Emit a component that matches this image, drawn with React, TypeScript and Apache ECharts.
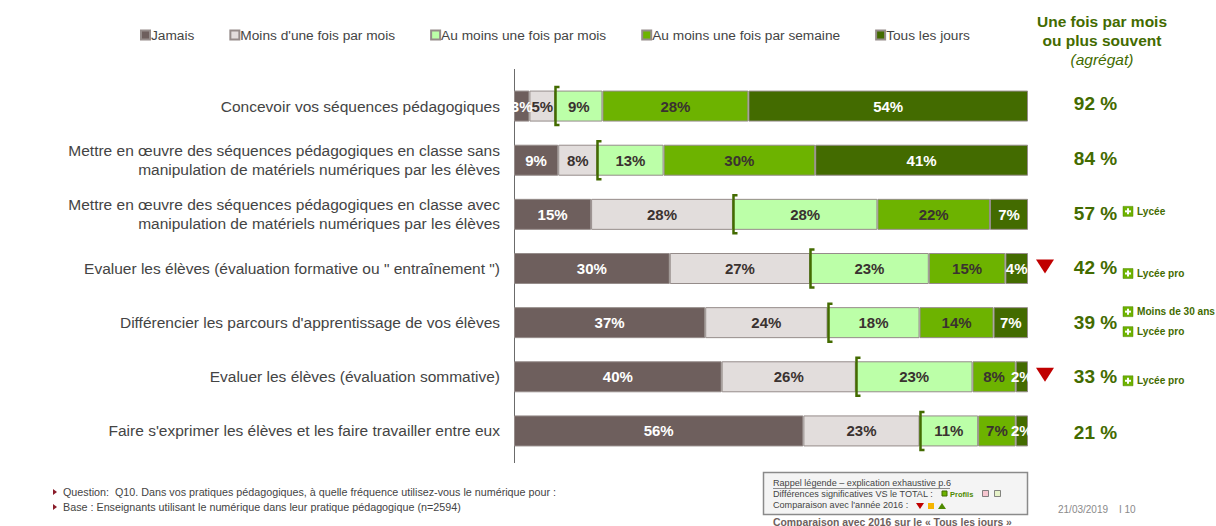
import React, { useEffect, useRef } from "react";
import * as echarts from "echarts";

const FONT = "'Liberation Sans', Arial, sans-serif";
const categories = [
  "Concevoir vos séquences pédagogiques",
  "Mettre en œuvre des séquences pédagogiques en classe sans\nmanipulation de matériels numériques par les élèves",
  "Mettre en œuvre des séquences pédagogiques en classe avec\nmanipulation de matériels numériques par les élèves",
  "Evaluer les élèves (évaluation formative ou \" entraînement \")",
  "Différencier les parcours d'apprentissage de vos élèves",
  "Evaluer les élèves (évaluation sommative)",
  "Faire s'exprimer les élèves et les faire travailler entre eux",
];
const seriesNames = [
  "Jamais",
  "Moins d'une fois par mois",
  "Au moins une fois par mois",
  "Au moins une fois par semaine",
  "Tous les jours",
];
const jamais = [3.0, 8.6, 15.0, 30.3, 37.2, 40.4, 56.3];
const moinsUneFois = [5.0, 7.6, 27.6, 27.3, 23.8, 26.1, 22.6];
const auMoinsMois = [9.2, 12.9, 28.1, 23.1, 17.9, 22.7, 11.4];
const auMoinsSemaine = [28.4, 29.5, 21.9, 14.9, 14.4, 8.4, 7.3];
const tousLesJours = [54.4, 41.4, 7.4, 4.4, 6.7, 2.4, 2.4];
const aggregate = [92, 84, 57, 42, 39, 33, 21];
const trendDown = [false, false, false, true, false, true, false];
const rowTags = [[], [], ["Lycée"], ["Lycée pro"], ["Moins de 30 ans", "Lycée pro"], ["Lycée pro"], []];

const seriesValues = [jamais, moinsUneFois, auMoinsMois, auMoinsSemaine, tousLesJours];
const seriesColors = ["#6e5f5d", "#e2dddc", "#bcffa8", "#6db300", "#436b00"];
const labelColors = ["#ffffff", "#3a3230", "#3a3230", "#3a3230", "#ffffff"];
const GREEN = "#436b00";
const TEXT = "#444444";

const aggOffset = [-3, -2, -1, -1, 0, 0, 2];
const tagOffsets: Record<number, number[]> = { 2: [-3], 3: [5], 4: [-11, 9], 5: [4] };

function plusIcon(x: number, y: number) {
  return [
    { type: "rect", shape: { x, y, width: 10, height: 10 }, style: { fill: "#6db300", stroke: "#55880a", lineWidth: 0.5 } },
    { type: "rect", shape: { x: x + 2, y: y + 4, width: 6, height: 2 }, style: { fill: "#ffffff" } },
    { type: "rect", shape: { x: x + 4, y: y + 2, width: 2, height: 6 }, style: { fill: "#ffffff" } },
  ];
}

const graphicText = (text: string, x: number, y: number, font: string, fill: string, align = "left") => ({
  type: "text",
  x,
  y,
  silent: true,
  style: { text, font, fill, align, verticalAlign: "middle" },
});

function buildOption() {
  const bars = seriesNames.map((name, s) => ({
    name,
    type: "bar",
    stack: "total",
    barWidth: 31,
    data: seriesValues[s],
    itemStyle: { color: seriesColors[s], borderColor: "#958c8a", borderWidth: 1 },
    label: {
      show: true,
      position: "inside",
      color: labelColors[s],
      fontFamily: FONT,
      fontSize: 15,
      fontWeight: "bold",
      formatter: (p: any) => `${Math.round(p.value)}%`,
    },
  }));

  const bracket = {
    type: "custom",
    silent: true,
    z: 5,
    data: categories.map((_, i) => [jamais[i] + moinsUneFois[i], i]),
    renderItem: (_: any, api: any) => {
      const [x, y] = api.coord([api.value(0), api.value(1)]);
      const top = y - 19;
      const bottom = y + 19;
      const px = Math.round(x) + 0.5;
      return {
        type: "polyline",
        shape: { points: [[px + 4, top], [px, top], [px, bottom], [px + 4, bottom]] },
        style: { stroke: GREEN, fill: "none", lineWidth: 2.5 },
      };
    },
  };

  const side = {
    type: "custom",
    silent: true,
    z: 6,
    data: categories.map((_, i) => [100, i]),
    renderItem: (params: any, api: any) => {
      const i = params.dataIndex;
      const [x, y] = api.coord([api.value(0), api.value(1)]);
      const children: any[] = [
        {
          type: "text",
          x: x + 67.5,
          y: y + aggOffset[i],
          style: {
            text: `${aggregate[i]} %`,
            font: `bold 19px ${FONT}`,
            fill: GREEN,
            align: "center",
            verticalAlign: "middle",
          },
        },
      ];
      if (trendDown[i]) {
        children.push({
          type: "polygon",
          shape: { points: [[x + 8, y - 9], [x + 26, y - 9], [x + 17, y + 5]] },
          style: { fill: "#c00000" },
        });
      }
      rowTags[i].forEach((tag, t) => {
        const ty = y + tagOffsets[i][t];
        children.push(...plusIcon(x + 95, ty - 5));
        children.push({
          type: "text",
          x: x + 109,
          y: ty,
          style: { text: tag, font: `bold 10.1px ${FONT}`, fill: GREEN, align: "left", verticalAlign: "middle" },
        });
      });
      return { type: "group", children };
    },
  };

  const graphic = [
    { type: "line", silent: true, shape: { x1: 514.5, y1: 69, x2: 514.5, y2: 463 }, style: { stroke: "#6b6b6b", lineWidth: 1 } },
    graphicText("Une fois par mois", 1102, 21, `bold 15.5px ${FONT}`, GREEN, "center"),
    graphicText("ou plus souvent", 1102, 40, `bold 15.5px ${FONT}`, GREEN, "center"),
    graphicText("(agrégat)", 1102, 59, `italic 15.5px ${FONT}`, GREEN, "center"),
    { type: "polygon", silent: true, shape: { points: [[53, 489], [57, 492], [53, 495]] }, style: { fill: "#8a1c2a" } },
    { type: "polygon", silent: true, shape: { points: [[53, 504], [57, 507], [53, 510]] }, style: { fill: "#8a1c2a" } },
    graphicText("Question:  Q10. Dans vos pratiques pédagogiques, à quelle fréquence utilisez-vous le numérique pour :", 63, 492, `10.75px ${FONT}`, TEXT),
    graphicText("Base : Enseignants utilisant le numérique dans leur pratique pédagogique (n=2594)", 63, 507, `10.75px ${FONT}`, TEXT),
    { type: "rect", silent: true, shape: { x: 763.5, y: 472.5, width: 264, height: 42 }, style: { fill: "#f4f4f4", stroke: "#8a8a8a", lineWidth: 1.5 } },
    graphicText("Rappel légende – explication exhaustive p.6", 773, 483, `9.1px ${FONT}`, TEXT),
    { type: "line", silent: true, shape: { x1: 773, y1: 488.5, x2: 950, y2: 488.5 }, style: { stroke: TEXT, lineWidth: 0.6 } },
    graphicText("Différences significatives VS le TOTAL :", 773, 494, `9.1px ${FONT}`, TEXT),
    { type: "rect", silent: true, shape: { x: 942, y: 491, width: 5, height: 5 }, style: { fill: "#6db300", stroke: "#436b00", lineWidth: 1 } },
    graphicText("Profils", 950, 494, `bold 7.5px ${FONT}`, "#4e8a00"),
    { type: "rect", silent: true, shape: { x: 982.5, y: 490.5, width: 6, height: 6 }, style: { fill: "#f7c6d0", stroke: "#666", lineWidth: 0.8 } },
    { type: "rect", silent: true, shape: { x: 994.5, y: 490.5, width: 6, height: 6 }, style: { fill: "#e6f2c8", stroke: "#666", lineWidth: 0.8 } },
    graphicText("Comparaison avec l'année 2016 :", 773, 505, `9.1px ${FONT}`, TEXT),
    { type: "polygon", silent: true, shape: { points: [[916, 503], [924, 503], [920, 509]] }, style: { fill: "#c00000" } },
    { type: "rect", silent: true, shape: { x: 928, y: 503, width: 6, height: 6 }, style: { fill: "#f5b400" } },
    { type: "polygon", silent: true, shape: { points: [[938, 509], [946, 509], [942, 503]] }, style: { fill: "#4e8a00" } },
    graphicText("Comparaison avec 2016 sur le « Tous les jours »", 773, 522, `bold 10.4px ${FONT}`, "#6e5f5d"),
    graphicText("21/03/2019", 1058, 509, `10px ${FONT}`, "#8a8a8a"),
    graphicText("I 10", 1119, 509, `10px ${FONT}`, "#8a8a8a"),
  ];

  return {
    animation: false,
    backgroundColor: "#ffffff",
    textStyle: { fontFamily: FONT },
    grid: { left: 514, width: 514, top: 79, height: 379, containLabel: false },
    legend: {
      data: seriesNames,
      left: 135,
      top: 23,
      icon: "rect",
      itemWidth: 9,
      itemHeight: 9,
      itemGap: 35,
      selectedMode: false,
      textStyle: { fontFamily: FONT, fontSize: 13.7, color: TEXT, padding: [0, 0, 0, -4] },
    },
    xAxis: { type: "value", min: 0, max: 100, show: false },
    yAxis: {
      type: "category",
      inverse: true,
      data: categories,
      axisLine: { show: false },
      axisTick: { show: false },
      axisLabel: {
        margin: 14,
        fontFamily: FONT,
        fontSize: 15.5,
        lineHeight: 19,
        color: TEXT,
        align: "right",
      },
    },
    series: [...bars, bracket, side],
    graphic,
  };
}

export default function App() {
  const ref = useRef<HTMLDivElement>(null);
  useEffect(() => {
    const chart = echarts.init(ref.current!, undefined, { renderer: "svg" });
    chart.setOption(buildOption() as any);
    return () => chart.dispose();
  }, []);
  return <div ref={ref} style={{ position: "absolute", left: 0, top: 0, width: 1216, height: 526 }} />;
}
